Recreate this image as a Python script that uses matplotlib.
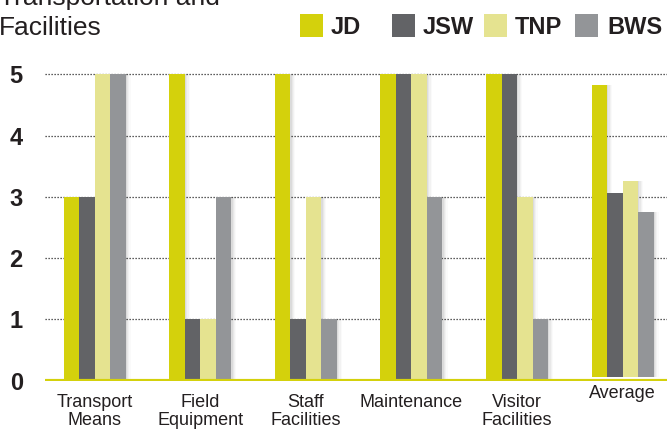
import matplotlib
matplotlib.use("Agg")
import matplotlib.pyplot as plt
import numpy as np

plt.rcParams['font.family'] = ['Liberation Sans', 'DejaVu Sans']

categories = ["Transport\nMeans", "Field\nEquipment", "Staff\nFacilities",
              "Maintenance", "Visitor\nFacilities", "Average"]
series = ["JD", "JSW", "TNP", "BWS"]
jd = [3, 5, 5, 5, 5, 4.82]
jsw = [3, 1, 1, 5, 5, 3.06]
tnp = [5, 1, 3, 5, 3, 3.26]
bws = [5, 3, 1, 3, 1, 2.75]
colors = ["#d4d10c", "#626366", "#e5e390", "#939598"]
yticks = [0, 1, 2, 3, 4, 5]
title_lines = ["Transportation and", "Facilities"]

values = [jd, jsw, tnp, bws]

fig = plt.figure(figsize=(6.67, 4.30), dpi=100)
ax = fig.add_axes([45 / 667, 0.1144, 1 - 45 / 667, 0.856 - 0.1144])

x = np.arange(len(categories))
w = 0.147
# the Average group floats slightly above the baseline
bottoms = np.array([0, 0, 0, 0, 0, 0.07])

for i, (vals, col) in enumerate(zip(values, colors)):
    pos = x + (i - 1.5) * w
    heights = np.array(vals) - bottoms
    # soft drop shadow to the right of each bar
    for k, a in enumerate([0.05, 0.04, 0.03, 0.02]):
        ax.bar(pos + 0.012 + k * 0.012, heights, w, bottom=bottoms,
               color="#000000", alpha=a, linewidth=0, zorder=1)
    ax.bar(pos, heights, w, bottom=bottoms, color=col, linewidth=0, zorder=3)

ax.set_xlim(-0.47, 5.42)
ax.set_ylim(0, 5.2)

for y in yticks[1:]:
    ax.axhline(y, color="#2a2a2a", lw=0.9, linestyle=(0, (1, 1.4)), zorder=0)
ax.axhline(0, color="#d4d10c", lw=3, zorder=4)

for s in ax.spines.values():
    s.set_visible(False)
ax.set_yticks(yticks)
ax.set_yticklabels([str(t) for t in yticks], fontsize=17, fontweight="bold",
                   color="#231f20")
ax.tick_params(axis="y", length=0, pad=16)
ax.set_xticks([])

trans = ax.get_xaxis_transform()
for xi, lab in zip(x, categories):
    yy = -0.012 if lab == "Average" else -0.04
    ax.text(xi, yy, lab, transform=trans, ha="center", va="top", fontsize=13,
            color="#231f20", linespacing=1.12)

# title, its first line running off the top of the canvas
for line, base_px in zip(title_lines, [5, 35]):
    fig.text(-0.002, 1 - base_px / 430, line, fontsize=19, color="#231f20",
             ha="left", va="baseline")

# legend row
sq = 23
legend_sq_x = [300, 392, 484, 575]
legend_txt_x = [331, 423, 515, 607]
for sx, tx, name, col in zip(legend_sq_x, legend_txt_x, series, colors):
    fig.patches.append(plt.Rectangle((sx / 667, 1 - 37 / 430), sq / 667, sq / 430,
                                     transform=fig.transFigure, color=col,
                                     linewidth=0))
    fig.text(tx / 667, 1 - 34 / 430, name, fontsize=17, fontweight="bold",
             color="#231f20", ha="left", va="baseline")

fig.savefig("out.png", dpi=100)
